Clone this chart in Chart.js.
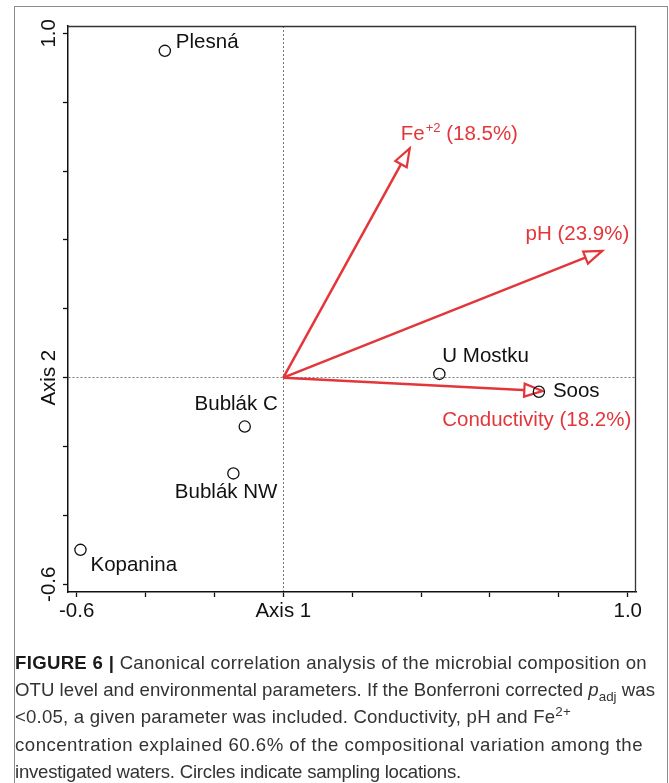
<!DOCTYPE html>
<html>
<head>
<meta charset="utf-8">
<script src="https://cdn.jsdelivr.net/npm/chart.js@4"></script>
<style>
  body { margin: 0; background: #fff; width: 669px; height: 783px; overflow: hidden; position: relative; }
  #frame { position: absolute; left: 14px; top: 6px; width: 652px; height: 800px; border: 1.5px solid #8c8c8c; border-bottom: none; }
  #caption { position: absolute; left: 15px; top: 649px; font-family: "Liberation Sans", Arial, sans-serif; font-size: 18.6px; line-height: 27.2px; color: #333; }
  #caption div { white-space: nowrap; }
  #caption span.ln { display: inline-block; }
  #caption b { color: #1a1a1a; }
  sub, sup { font-size: 72%; line-height: 0; }
</style>
</head>
<body>
<div id="frame"></div>
<canvas id="myChart" width="669" height="640"></canvas>
<div id="caption">
  <div><span class="ln" data-w="632"><b>FIGURE 6 |</b> Canonical correlation analysis of the microbial composition on</span></div>
  <div><span class="ln" data-w="640">OTU level and environmental parameters. If the Bonferroni corrected <i>p</i><sub>adj</sub> was</span></div>
  <div><span class="ln" data-w="556">&lt;0.05, a given parameter was included. Conductivity, pH and Fe<sup>2+</sup></span></div>
  <div><span class="ln" data-w="628">concentration explained 60.6% of the compositional variation among the</span></div>
  <div><span class="ln" data-w="446">investigated waters. Circles indicate sampling locations.</span></div>
</div>
<script>
// sampling sites (circles)
const sites = ['Plesná', 'Bublák C', 'Bublák NW', 'Kopanina', 'U Mostku', 'Soos'];
const siteX = [-0.344, -0.112, -0.145, -0.589, 0.453, 0.742];
const siteY = [0.949, -0.142, -0.278, -0.500, 0.011, -0.041];

// environmental vectors (arrows)
const envNames = ['Fe', 'pH', 'Conductivity'];
const envPct = ['(18.5%)', '(23.9%)', '(18.2%)'];
const envX = [0.367, 0.926, 0.752];
const envY = [0.666, 0.368, -0.039];

// axis ticks
const xTicks = [-0.6, -0.4, -0.2, 0, 0.2, 0.4, 0.6, 0.8, 1.0];
const yTicks = [-0.6, -0.4, -0.2, 0, 0.2, 0.4, 0.6, 0.8, 1.0];
const xTickLabels = ['-0.6', '', '', 'Axis 1', '', '', '', '', '1.0'];
const yTickLabels = ['-0.6', '', '', 'Axis 2', '', '', '', '', '1.0'];

const RED = '#e3363b';
const FONT = '20.5px "Liberation Sans", Arial, sans-serif';

// label offsets in px from the mark (style only)
const siteLab = [
    {dx: 11, dy: -9, align: 'left'},
    {dx: 33, dy: -22, align: 'right'},
    {dx: 44, dy: 19, align: 'right'},
    {dx: 10, dy: 15, align: 'left'},
    {dx: 3, dy: -18, align: 'left'},
    {dx: 14, dy: 0, align: 'left'}
];
const envLab = [
    {dx: -9, dy: -14, align: 'left'},
    {dx: 27, dy: -17, align: 'right'},
    {dx: 89, dy: 29, align: 'right'}
];

// stretch caption lines a bit so they wrap like the printed figure
document.querySelectorAll('#caption span.ln').forEach(function (el) {
    let target = +el.dataset.w;
    let w = el.getBoundingClientRect().width;
    let n = el.textContent.length;
    el.style.letterSpacing = ((target - w) / n).toFixed(3) + 'px';
});

let datasets = [];
datasets.push({
    type: 'scatter',
    label: 'sites',
    data: sites.map((s, i) => ({x: siteX[i], y: siteY[i]})),
    pointRadius: 5.6,
    pointHoverRadius: 5.6,
    borderColor: '#111',
    borderWidth: 1.3,
    backgroundColor: 'rgba(0,0,0,0)',
    order: 0
});
for (let i = 0; i < envNames.length; i++) {
    datasets.push({
        type: 'line',
        label: envNames[i],
        data: [{x: 0, y: 0}, {x: envX[i], y: envY[i]}],
        borderColor: RED,
        borderWidth: 2.5,
        pointRadius: 0,
        fill: false,
        order: 1
    });
}

function zeroGrid(c) {
    return (c.tick && Math.abs(c.tick.value) < 1e-9) ? '#777' : 'rgba(0,0,0,0)';
}

const biplot = {
    id: 'biplot',
    beforeDatasetsDraw(chart) {
        const a = chart.chartArea;
        const c = chart.ctx;
        c.save();
        c.strokeStyle = '#333';
        c.lineWidth = 1.3;
        c.beginPath();
        c.moveTo(a.left, a.top + 0.5);
        c.lineTo(a.right - 0.5, a.top + 0.5);
        c.lineTo(a.right - 0.5, a.bottom);
        c.stroke();
        c.restore();
    },
    afterDatasetDraw(chart, args) {
        if (args.index === 0) return;
        const pts = chart.getDatasetMeta(args.index).data;
        const x0 = pts[0].x, y0 = pts[0].y, x1 = pts[1].x, y1 = pts[1].y;
        const ang = Math.atan2(y1 - y0, x1 - x0);
        const len = 18, hw = 6.5;
        const c = chart.ctx;
        c.save();
        c.translate(x1, y1);
        c.rotate(ang);
        c.beginPath();
        c.moveTo(0, 0);
        c.lineTo(-len, -hw);
        c.lineTo(-len, hw);
        c.closePath();
        c.fillStyle = '#fff';
        c.fill();
        c.strokeStyle = RED;
        c.lineWidth = 2.2;
        c.stroke();
        c.restore();
    },
    afterDraw(chart) {
        const c = chart.ctx;
        const xs = chart.scales.x, ys = chart.scales.y;
        c.save();
        c.font = FONT;
        c.textBaseline = 'middle';

        // site names
        c.fillStyle = '#111';
        const sp = chart.getDatasetMeta(0).data;
        sites.forEach((s, i) => {
            c.textAlign = siteLab[i].align;
            c.fillText(s, sp[i].x + siteLab[i].dx, sp[i].y + siteLab[i].dy);
        });

        // vector names
        c.fillStyle = RED;
        envNames.forEach((n, i) => {
            const p = chart.getDatasetMeta(i + 1).data[1];
            const L = envLab[i];
            let x = p.x + L.dx, y = p.y + L.dy;
            if (n === 'Fe') {
                c.textAlign = 'left';
                c.fillText('Fe', x, y);
                let w = c.measureText('Fe').width;
                c.font = '13px "Liberation Sans", Arial, sans-serif';
                c.fillText('+2', x + w + 1, y - 6);
                let w2 = c.measureText('+2').width;
                c.font = FONT;
                c.fillText(' ' + envPct[i], x + w + w2 + 1, y);
            } else {
                c.textAlign = L.align;
                c.fillText(n + ' ' + envPct[i], x, y);
            }
        });

        // axis labels
        c.fillStyle = '#111';
        c.textAlign = 'center';
        xTicks.forEach((v, i) => {
            if (xTickLabels[i]) c.fillText(xTickLabels[i], xs.getPixelForValue(v), 611);
        });
        yTicks.forEach((v, i) => {
            if (!yTickLabels[i]) return;
            c.save();
            c.translate(49, ys.getPixelForValue(v));
            c.rotate(-Math.PI / 2);
            c.fillText(yTickLabels[i], 0, 0);
            c.restore();
        });
        c.restore();
    }
};

const ctx = document.getElementById('myChart');

new Chart(ctx, {
    data: {datasets: datasets},
    options: {
        responsive: false,
        animation: false,
        events: [],
        layout: {padding: {left: 63, right: 33, top: 26, bottom: 43}},
        plugins: {legend: {display: false}, tooltip: {enabled: false}},
        scales: {
            x: {
                type: 'linear',
                min: -0.6252,
                max: 1.024,
                afterBuildTicks: s => { s.ticks = xTicks.map(v => ({value: v})); },
                afterFit: s => { s.height = 5; },
                ticks: {display: false},
                grid: {color: zeroGrid, tickColor: '#111', tickLength: 5, lineWidth: 1, tickWidth: 1.3},
                border: {display: true, color: '#111', width: 1.5, dash: [2, 2]}
            },
            y: {
                type: 'linear',
                min: -0.6224,
                max: 1.0212,
                afterBuildTicks: s => { s.ticks = yTicks.map(v => ({value: v})); },
                afterFit: s => { s.width = 5; },
                ticks: {display: false},
                grid: {color: zeroGrid, tickColor: '#111', tickLength: 5, lineWidth: 1, tickWidth: 1.3},
                border: {display: true, color: '#111', width: 1.5, dash: [2, 2]}
            }
        }
    },
    plugins: [biplot]
});
</script>
</body>
</html>
